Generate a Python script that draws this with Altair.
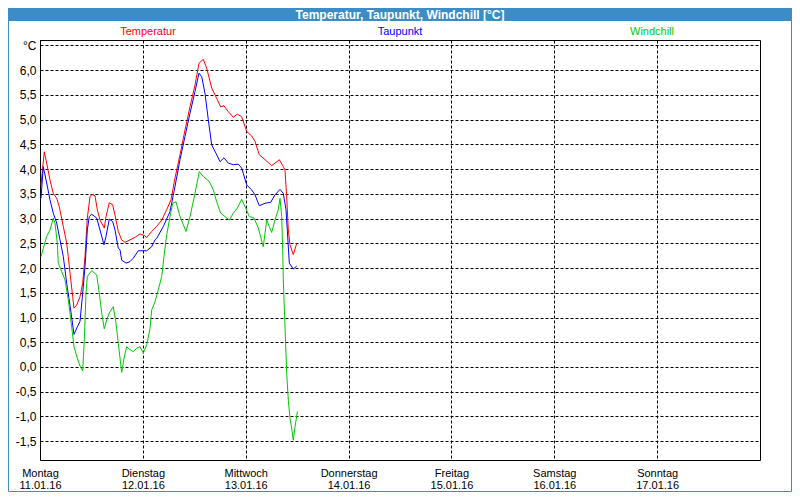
import altair as alt
import pandas as pd

# hours since Monday 11.01.16 00:00
temp_h = [0.23, 1.0, 1.56, 2.33, 3.10, 3.90, 4.50, 5.44, 6.23, 6.60, 7.0, 7.63, 7.93, 8.56, 9.33, 9.96,
          10.5, 10.73, 11.04, 11.67, 12.06, 12.83, 13.37, 14.0, 15.0, 15.4, 16.17, 16.96, 17.5, 18.27,
          19.06, 19.83, 21.0, 22.17, 23.33, 24.27, 24.9, 26.06, 27.23, 28.4, 29.56, 30.57, 31.5, 32.67,
          33.83, 35.0, 36.17, 37.1, 38.1, 38.9, 40.06, 41.23, 42.16, 42.93, 43.94, 45.1, 46.04, 47.06,
          48.23, 49.4, 50.17, 51.17, 52.5, 54.06, 54.83, 55.84, 56.77, 57.17, 57.56, 57.94, 58.33, 59.1, 59.9]
temp_v = [3.68, 4.35, 4.12, 3.78, 3.51, 3.41, 3.24, 2.84, 2.50, 2.23, 1.90, 1.42, 1.19, 1.25, 1.42, 1.69,
          2.23, 2.57, 3.01, 3.44, 3.49, 3.46, 3.18, 2.97, 2.81, 3.04, 3.32, 3.28, 3.07, 2.74,
          2.57, 2.52, 2.57, 2.62, 2.69, 2.66, 2.62, 2.74, 2.84, 2.97, 3.18, 3.38, 3.82, 4.29,
          4.79, 5.26, 5.70, 6.14, 6.22, 6.04, 5.64, 5.43, 5.26, 5.28, 5.16, 5.05, 5.11, 5.06,
          4.76, 4.67, 4.56, 4.29, 4.19, 4.07, 4.12, 4.19, 4.05, 3.98, 3.44, 2.77, 2.47, 2.27, 2.50]

dew_h = [0.23, 0.77, 1.56, 2.33, 3.10, 3.90, 4.67, 5.44, 6.23, 7.16, 7.93, 8.70, 9.33, 9.96, 10.5, 10.9,
         11.04, 11.5, 12.06, 13.23, 14.0, 14.93, 15.4, 16.17, 16.96, 17.5, 18.27, 18.67, 19.06, 20.07,
         21.0, 21.77, 22.94, 24.9, 26.06, 26.83, 27.23, 28.77, 30.33, 31.5, 32.67, 33.83, 35.0, 36.17,
         37.1, 37.73, 38.5, 39.27, 40.06, 41.07, 42.0, 42.93, 43.94, 45.1, 46.27, 47.06, 48.23, 49.4,
         50.17, 51.17, 52.5, 53.83, 54.83, 56.0, 56.77, 57.4, 57.7, 58.17, 59.1, 59.9]
dew_v = [3.41, 4.05, 3.72, 3.38, 3.11, 2.91, 2.57, 2.23, 1.69, 1.15, 0.66, 0.81, 0.92, 1.49, 2.03, 2.57,
         2.77, 3.04, 3.09, 3.01, 2.77, 2.47, 2.64, 2.99, 2.94, 2.77, 2.40, 2.37, 2.16, 2.10,
         2.13, 2.20, 2.35, 2.35, 2.43, 2.57, 2.60, 2.84, 3.14, 3.65, 4.19, 4.66, 5.13, 5.57,
         5.94, 5.87, 5.53, 5.00, 4.49, 4.32, 4.15, 4.23, 4.12, 4.09, 4.10, 4.02, 3.68, 3.58,
         3.48, 3.26, 3.31, 3.33, 3.48, 3.59, 3.51, 3.18, 2.77, 2.10, 1.98, 2.04]

wind_h = [0.23, 0.77, 1.56, 2.33, 3.10, 3.5, 4.04, 4.27, 5.06, 5.83, 6.60, 7.40, 7.93, 8.70, 9.33, 9.96,
          10.34, 10.73, 11.04, 12.06, 13.23, 13.84, 14.4, 15.0, 15.7, 16.33, 17.1, 17.73, 18.27, 19.06,
          19.6, 20.23, 21.0, 21.77, 22.56, 23.33, 24.1, 24.9, 25.67, 26.06, 26.83, 27.6, 28.4, 28.93,
          29.4, 29.63, 30.33, 30.97, 31.73, 32.67, 34.07, 35.0, 36.17, 37.17, 38.1, 39.5, 40.44, 41.23,
          42.16, 43.17, 44.17, 45.1, 46.04, 47.06, 48.0, 48.84, 49.93, 50.94, 52.1, 52.9, 53.5, 54.06,
          54.83, 55.6, 56.0, 56.4, 56.63, 56.77, 57.17, 57.56, 57.94, 58.33, 58.73, 59.1, 59.5, 60.07]
wind_v = [2.23, 2.40, 2.64, 2.77, 3.01, 2.91, 2.50, 2.10, 1.93, 1.76, 1.36, 0.81, 0.41, 0.18, 0.02, -0.08,
          0.55, 1.49, 1.83, 1.95, 1.86, 1.49, 1.09, 0.77, 0.99, 1.12, 1.22, 0.89, 0.48, -0.11,
          0.18, 0.41, 0.35, 0.31, 0.38, 0.41, 0.28, 0.45, 0.78, 1.15, 1.32, 1.56, 1.83, 2.23,
          2.57, 2.70, 3.04, 3.31, 3.34, 3.04, 2.74, 3.04, 3.51, 3.95, 3.85, 3.75, 3.58, 3.34,
          3.11, 3.04, 2.97, 3.11, 3.21, 3.39, 3.21, 3.04, 3.01, 2.81, 2.43, 2.97, 2.84, 2.72,
          2.97, 3.18, 3.41, 3.04, 2.37, 1.76, 0.81, -0.12, -0.67, -1.04, -1.24, -1.48, -1.21, -0.90]

series_names = ["Temperatur", "Taupunkt", "Windchill"]
series_colors = ["#ff0000", "#0000ff", "#00c800"]
day_names = ["Montag", "Dienstag", "Mittwoch", "Donnerstag", "Freitag", "Samstag", "Sonntag"]
day_dates = ["11.01.16", "12.01.16", "13.01.16", "14.01.16", "15.01.16", "16.01.16", "17.01.16"]
y_ticks = [-1.5, -1.0, -0.5, 0.0, 0.5, 1.0, 1.5, 2.0, 2.5, 3.0, 3.5, 4.0, 4.5, 5.0, 5.5, 6.0, 6.5]
x_ticks = [0, 24, 48, 72, 96, 120, 144]
title_text = "Temperatur, Taupunkt, Windchill [°C]"

rows = []
for name, hs, vs in zip(series_names, [temp_h, dew_h, wind_h], [temp_v, dew_v, wind_v]):
    for i, (h, v) in enumerate(zip(hs, vs)):
        rows.append({"h": h, "v": v, "s": name, "o": i})
df = pd.DataFrame(rows)

FONT = "Liberation Sans"

names_js = "[" + ",".join("'%s'" % d for d in day_names) + "]"
dates_js = "[" + ",".join("'%s'" % d for d in day_dates) + "]"
x_label_expr = "[%s[round(datum.value/24)], %s[round(datum.value/24)]]" % (names_js, dates_js)
y_label_expr = ("datum.value > 6.4 ? '°C' : (datum.value < 0 ? '-' : '') + "
                "replace(format(abs(datum.value), '.1f'), '.', ',')")

lines = alt.Chart(df).mark_line(strokeWidth=1, interpolate="linear").encode(
    x=alt.X("h:Q", scale=alt.Scale(domain=[0, 168], nice=False, zero=False),
            axis=alt.Axis(values=x_ticks, title=None, labelExpr=x_label_expr, grid=True,
                          gridColor="black", gridDash=[3, 2], gridOpacity=1, ticks=False, domain=False,
                          labelFont=FONT, labelFontSize=11, labelColor="black", labelAlign="center",
                          labelBaseline="top", labelPadding=7, labelLineHeight=12, labelFlush=False,
                          labelOverlap=False)),
    y=alt.Y("v:Q", scale=alt.Scale(domain=[-1.88, 6.61], nice=False, zero=False),
            axis=alt.Axis(values=y_ticks, title=None, labelExpr=y_label_expr, grid=True,
                          gridColor="black", gridDash=[3, 2], gridOpacity=1, ticks=False,
                          domainColor="black", labelFont=FONT, labelFontSize=12, labelColor="black",
                          labelPadding=4, labelOverlap=False, labelFlush=False)),
    color=alt.Color("s:N", scale=alt.Scale(domain=series_names, range=series_colors), legend=None),
    order="o:Q",
)

one = pd.DataFrame({"a": [0]})

frame = alt.Chart(one).mark_rect(filled=False, stroke="#3c8dc5", strokeWidth=1).encode(
    x=alt.value(-31.5), x2=alt.value(751.5), y=alt.value(-31.5), y2=alt.value(451.5))

bar = alt.Chart(one).mark_rect(fill="#3c8dc5").encode(
    x=alt.value(-32), x2=alt.value(752), y=alt.value(-32), y2=alt.value(-19))

title = alt.Chart(one).mark_text(text=title_text, font=FONT, fontSize=12, fontWeight="bold",
                                 color="white", align="center", baseline="middle").encode(
    x=alt.value(360), y=alt.value(-25.5))

leg_df = pd.DataFrame({"s": series_names, "px": [108, 360, 612]})
legend = alt.Chart(leg_df).mark_text(font=FONT, fontSize=11, align="center", baseline="middle").encode(
    x=alt.X("px:Q", scale=None), y=alt.value(-8), text="s:N",
    color=alt.Color("s:N", scale=alt.Scale(domain=series_names, range=series_colors), legend=None))

chart = alt.layer(lines, frame, bar, title, legend).properties(
    width=720, height=420,
    autosize=alt.AutoSizeParams(type="none"),
    padding={"left": 32, "top": 32, "right": 32, "bottom": 32},
    background="white",
).configure_view(stroke="black", strokeWidth=1)

chart.save("out.html", embed_options={"renderer": "svg", "actions": False})
